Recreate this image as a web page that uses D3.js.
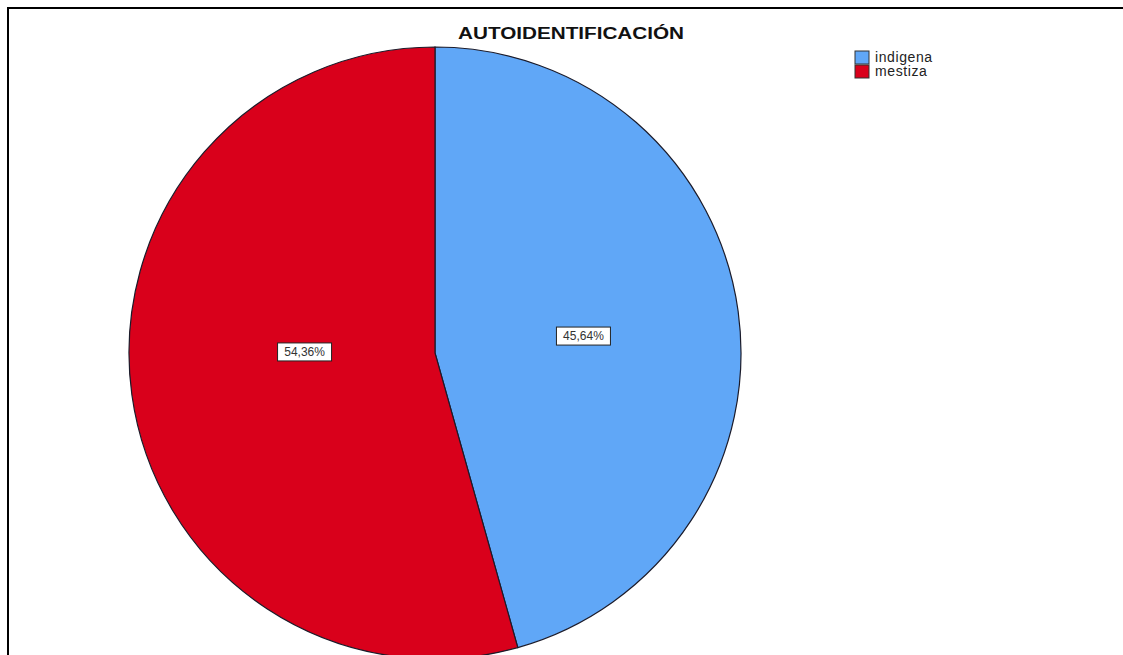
<!DOCTYPE html>
<html>
<head>
<meta charset="utf-8">
<script src="https://cdn.jsdelivr.net/npm/d3@7"></script>
<style>
  html, body { margin: 0; padding: 0; background: #fff; overflow: hidden; }
  svg { display: block; }
</style>
</head>
<body>
<svg id="chart" width="1123" height="655"></svg>
<script>
// Self-identification breakdown
const categories = ["indigena", "mestiza"];
const percents = [45.64, 54.36];
const pctLabels = ["45,64%", "54,36%"];
const colors = ["#60a7f7", "#d9001b"];
const title = "AUTOIDENTIFICACIÓN";

const W = 1123, H = 655;
const svg = d3.select("#chart");

// frame (top and left edges)
svg.append("path")
  .attr("d", `M8,${H + 5} L8,8 L${W + 5},8`)
  .attr("fill", "none")
  .attr("stroke", "#000")
  .attr("stroke-width", 2);

const cx = 435, cy = 353, r = 306;

const pie = d3.pie().sort(null).value(d => d)(percents);
const arc = d3.arc().innerRadius(0).outerRadius(r);

const g = svg.append("g").attr("transform", `translate(${cx},${cy})`);

g.selectAll("path.slice")
  .data(pie)
  .join("path")
  .attr("class", "slice")
  .attr("d", arc)
  .attr("fill", (d, i) => colors[i])
  .attr("stroke", "#1b1b2a")
  .attr("stroke-width", 1.2);

// value labels in boxed text, placed along each slice's mid angle
const labelR = r * 0.46;
function labelPos(d) {
  const a = (d.startAngle + d.endAngle) / 2;
  const x = Math.sin(a) * labelR + 9;
  const y = -Math.cos(a) * r * 0.19 - 9;
  return [x, y];
}
const labels = g.selectAll("g.lbl")
  .data(pie)
  .join("g")
  .attr("class", "lbl")
  .attr("transform", d => `translate(${labelPos(d)})`);

labels.append("rect")
  .attr("x", -27).attr("y", -9)
  .attr("width", 54).attr("height", 18)
  .attr("fill", "#fff")
  .attr("stroke", "#222")
  .attr("stroke-width", 1);

labels.append("text")
  .attr("text-anchor", "middle")
  .attr("dy", "0.36em")
  .attr("font-family", "Liberation Sans, Arial, sans-serif")
  .attr("font-size", 12)
  .attr("fill", "#333")
  .text((d, i) => pctLabels[i]);

// title
svg.append("text")
  .attr("x", 571).attr("y", 39)
  .attr("text-anchor", "middle")
  .attr("font-family", "Liberation Sans, Arial, sans-serif")
  .attr("font-weight", "bold")
  .attr("font-size", 16)
  .attr("textLength", 226)
  .attr("lengthAdjust", "spacingAndGlyphs")
  .attr("fill", "#111")
  .text(title);

// legend
const legend = svg.append("g").attr("transform", "translate(855,51)");
const items = legend.selectAll("g")
  .data(categories)
  .join("g")
  .attr("transform", (d, i) => `translate(0,${i * 14})`);
items.append("rect")
  .attr("width", 14).attr("height", 13)
  .attr("fill", (d, i) => colors[i])
  .attr("stroke", "#333")
  .attr("stroke-width", 1);
items.append("text")
  .attr("x", 20).attr("y", 11)
  .attr("font-family", "Liberation Sans, Arial, sans-serif")
  .attr("font-size", 14)
  .attr("letter-spacing", 0.6)
  .attr("fill", "#222")
  .text(d => d);
</script>
</body>
</html>
